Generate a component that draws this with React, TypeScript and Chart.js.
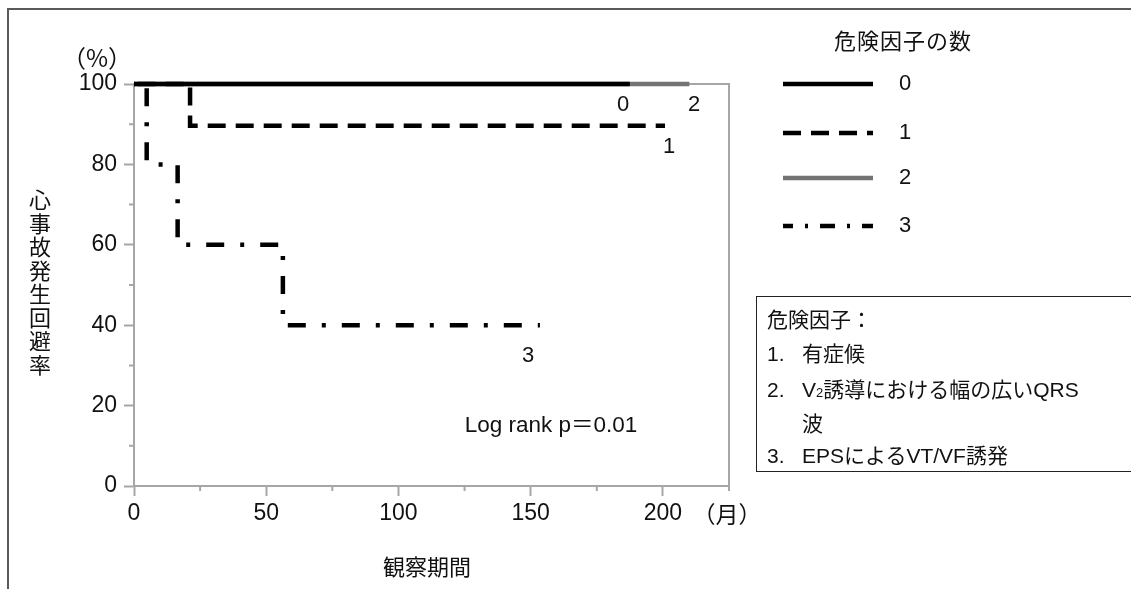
import React, { useEffect, useRef } from "react";
import { Chart, registerables } from "chart.js";

Chart.register(...registerables);

// ---- data ----
const groupLabels = ["0", "1", "2", "3"];
const group0Months = [0, 187.5];
const group0Survival = [100, 100];
const group1Months = [0, 21.2, 200.8];
const group1Survival = [100, 89.6, 89.6];
const group2Months = [0, 210];
const group2Survival = [100, 100];
const group3Months = [0, 4.8, 16.5, 56.3, 153.5];
const group3Survival = [100, 80, 60, 40, 40];
const xTickValues = [0, 50, 100, 150, 200];
const xMinorTickValues = [25, 75, 125, 175, 225];
const yTickValues = [0, 20, 40, 60, 80, 100];
const yMinorTickValues = [10, 30, 50, 70, 90];

// ---- styles ----
const AXIS = "#a6a6a6";
const CJK = '"Noto Sans CJK JP", sans-serif';
const LATIN = '"Liberation Sans", "Noto Sans CJK JP", sans-serif';
const seriesStyles = [
  { color: "#000000", dash: [] as number[], offset: 0, legendDash: [] as number[], legendOffset: 0 },
  { color: "#000000", dash: [18, 10], offset: 24.5, legendDash: [18, 10], legendOffset: 0 },
  { color: "#737373", dash: [] as number[], offset: 0, legendDash: [] as number[], legendOffset: 0 },
  { color: "#000000", dash: [18, 16, 4, 16], offset: 37, legendDash: [15, 12, 3, 12], legendOffset: 5 },
];
const legendLineY = [84, 133, 178, 226];

function T(props: {
  x: number; y: number; size: number; family?: string; align?: "left" | "center";
  children: React.ReactNode; style?: React.CSSProperties;
}) {
  const { x, y, size, family = LATIN, align = "center", children, style } = props;
  return (
    <div
      style={{
        position: "absolute",
        left: x,
        top: y,
        transform: align === "center" ? "translate(-50%, -50%)" : "translate(0, -50%)",
        fontSize: size,
        fontFamily: family,
        lineHeight: 1,
        whiteSpace: "nowrap",
        color: "#111",
        ...style,
      }}
    >
      {children}
    </div>
  );
}

export default function App() {
  const ref = useRef<HTMLCanvasElement>(null);

  useEffect(() => {
    const canvas = ref.current;
    if (!canvas) return;
    const months = [group0Months, group1Months, group2Months, group3Months];
    const survival = [group0Survival, group1Survival, group2Survival, group3Survival];

    const extras = {
      id: "extras",
      beforeDatasetsDraw(chart: any) {
        const { ctx, chartArea: a, scales } = chart;
        ctx.save();
        ctx.strokeStyle = AXIS;
        ctx.lineWidth = 2;
        ctx.beginPath();
        ctx.moveTo(a.left, a.top);
        ctx.lineTo(a.right, a.top);
        ctx.lineTo(a.right, a.bottom);
        ctx.stroke();
        ctx.beginPath();
        yMinorTickValues.forEach((v) => {
          const y = scales.y.getPixelForValue(v);
          ctx.moveTo(a.left - 5, y);
          ctx.lineTo(a.left, y);
        });
        xMinorTickValues.forEach((v) => {
          const x = scales.x.getPixelForValue(v);
          ctx.moveTo(x, a.bottom);
          ctx.lineTo(x, a.bottom + 5);
        });
        ctx.stroke();
        ctx.restore();
      },
      afterDraw(chart: any) {
        const { ctx } = chart;
        ctx.save();
        seriesStyles.forEach((s, i) => {
          ctx.strokeStyle = s.color;
          ctx.lineWidth = 4.5;
          ctx.lineCap = "butt";
          ctx.setLineDash(s.legendDash);
          ctx.lineDashOffset = s.legendOffset;
          ctx.beginPath();
          ctx.moveTo(783, legendLineY[i]);
          ctx.lineTo(873, legendLineY[i]);
          ctx.stroke();
        });
        ctx.restore();
      },
    };

    const chart = new Chart(canvas, {
      type: "line",
      data: {
        datasets: groupLabels.map((label, i) => ({
          label,
          data: months[i].map((m, j) => ({ x: m, y: survival[i][j] })),
          borderColor: seriesStyles[i].color,
          borderWidth: 4.5,
          borderDash: seriesStyles[i].dash,
          borderDashOffset: seriesStyles[i].offset,
          borderCapStyle: "butt",
          borderJoinStyle: "miter",
          stepped: true,
          pointRadius: 0,
          fill: false,
          tension: 0,
          clip: false,
        })),
      } as any,
      options: {
        responsive: false,
        animation: false,
        events: [],
        layout: { padding: { top: 84, left: 0, right: 402, bottom: 63 } },
        plugins: {
          legend: { display: false },
          tooltip: { enabled: false },
          title: { display: false },
        },
        scales: {
          x: {
            type: "linear",
            min: 0,
            max: 225,
            afterBuildTicks: (s: any) => {
              s.ticks = xTickValues.map((v) => ({ value: v }));
            },
            afterFit: (s: any) => {
              s.height = 40;
            },
            grid: { display: true, drawOnChartArea: false, drawTicks: true, tickLength: 10, tickColor: AXIS, tickWidth: 2 },
            border: { display: true, color: AXIS, width: 2 },
            ticks: { font: { family: LATIN, size: 23 }, color: "#111", padding: 4, maxRotation: 0, autoSkip: false },
          },
          y: {
            type: "linear",
            min: 0,
            max: 100,
            afterBuildTicks: (s: any) => {
              s.ticks = yTickValues.map((v) => ({ value: v }));
            },
            afterFit: (s: any) => {
              s.width = 134;
            },
            grid: { display: true, drawOnChartArea: false, drawTicks: true, tickLength: 10, tickColor: AXIS, tickWidth: 2 },
            border: { display: true, color: AXIS, width: 2 },
            ticks: { font: { family: LATIN, size: 23 }, color: "#111", padding: 7, autoSkip: false },
          },
        },
      } as any,
      plugins: [extras],
    });
    return () => chart.destroy();
  }, []);

  return (
    <div style={{ position: "absolute", left: 0, top: 0, width: 1131, height: 589, overflow: "hidden", background: "#fff" }}>
      <canvas ref={ref} width={1131} height={589} style={{ position: "absolute", left: 0, top: 0, display: "block" }} />
      {/* outer frame */}
      <div style={{ position: "absolute", left: 7, top: 8, width: 1300, height: 800, borderTop: "2px solid #5a5a5a", borderLeft: "2px solid #5a5a5a" }} />

      <T x={97} y={57} size={24} family={CJK}>（%）</T>
      <T x={40} y={283} size={22} family={CJK} style={{ writingMode: "vertical-rl", textOrientation: "upright", letterSpacing: 1.5 }}>
        心事故発生回避率
      </T>
      <T x={427} y={565} size={22} family={CJK}>観察期間</T>
      <T x={727} y={513} size={23} family={CJK}>（月）</T>
      <T x={551} y={425} size={22.5}>Log rank p＝0.01</T>

      <T x={623} y={104} size={22}>0</T>
      <T x={694} y={104} size={22}>2</T>
      <T x={669} y={146} size={22}>1</T>
      <T x={528} y={355} size={22}>3</T>

      <T x={903} y={39} size={22} family={CJK} style={{ letterSpacing: 1 }}>危険因子の数</T>
      {groupLabels.map((g, i) => (
        <T key={g} x={905} y={legendLineY[i] - 1} size={22}>{g}</T>
      ))}

      <div style={{ position: "absolute", left: 756, top: 296, width: 420, height: 176, border: "1.5px solid #222", boxSizing: "border-box" }} />
      <T x={767} y={318} size={21} family={CJK} align="left">危険因子：</T>
      <T x={767} y={353} size={21} family={LATIN} align="left">
        <span style={{ display: "inline-block", width: 35 }}>1.</span>
        <span style={{ fontFamily: CJK }}>有症候</span>
      </T>
      <T x={767} y={389} size={21} family={LATIN} align="left">
        <span style={{ display: "inline-block", width: 35 }}>2.</span>
        V<span style={{ fontSize: 13 }}>2</span>
        <span style={{ fontFamily: CJK }}>誘導における幅の広い</span>QRS
      </T>
      <T x={802} y={422} size={21} family={CJK} align="left">波</T>
      <T x={767} y={455} size={21} family={LATIN} align="left">
        <span style={{ display: "inline-block", width: 35 }}>3.</span>
        EPS<span style={{ fontFamily: CJK }}>による</span>VT/VF<span style={{ fontFamily: CJK }}>誘発</span>
      </T>
    </div>
  );
}
